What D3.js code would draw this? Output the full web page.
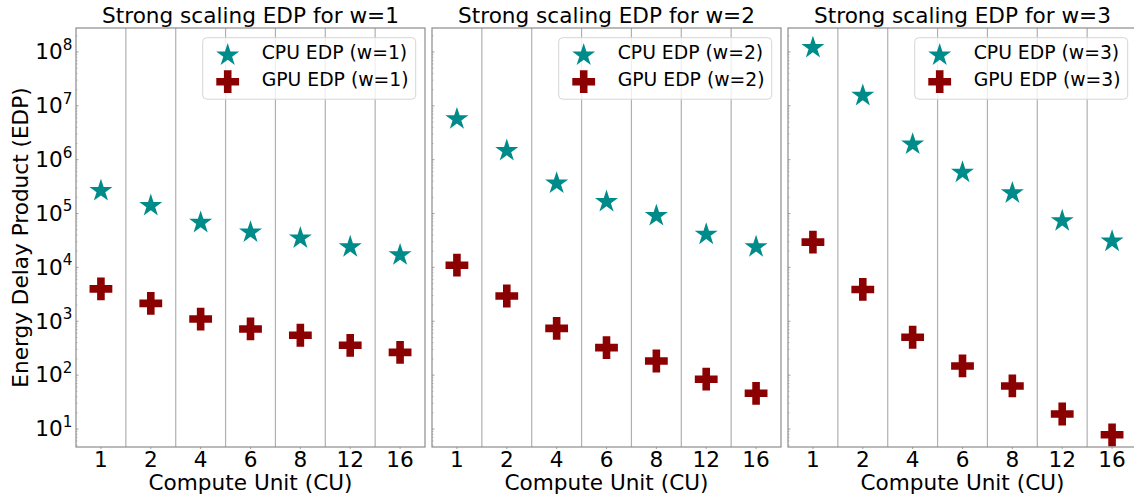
<!DOCTYPE html>
<html lang="en">
<head>
<meta charset="UTF-8">
<script src="https://cdn.jsdelivr.net/npm/d3@7"></script>
<title>Strong scaling EDP</title>
<style>
  body { margin: 0; background: #fff; }
  text { font-family: "DejaVu Sans", sans-serif; fill: #000; }
</style>
</head>
<body>
<div id="chart"></div>
<script>
// compute units on the x axis
var units = ["1", "2", "4", "6", "8", "12", "16"];
var widths = [1, 2, 3];

// EDP values
var cpuW1 = [2.65e5, 1.4e5, 6.8e4, 4.5e4, 3.5e4, 2.4e4, 1.7e4];
var gpuW1 = [4.0e3, 2.15e3, 1.1e3, 720, 550, 358, 265];
var cpuW2 = [5.7e6, 1.47e6, 3.65e5, 1.66e5, 9.1e4, 4.1e4, 2.4e4];
var gpuW2 = [1.1e4, 2.95e3, 740, 324, 183, 84, 46];
var cpuW3 = [1.2e8, 1.55e7, 1.93e6, 5.8e5, 2.4e5, 7.3e4, 3.05e4];
var gpuW3 = [2.95e4, 3.9e3, 505, 148, 63, 19, 7.8];

var cpuData = [cpuW1, cpuW2, cpuW3];
var gpuData = [gpuW1, gpuW2, gpuW3];

var W = 1134, H = 499;
var plotTop = 28, plotBottom = 447;
var panelLeft = [76, 432, 788], panelW = 349;
var cpuColor = "#008b8b", gpuColor = "#8b0000";
var fs = "21.6px";

var svg = d3.select("#chart").append("svg")
    .attr("width", W).attr("height", H);

var y = d3.scaleLog()
    .domain([Math.pow(10, 0.6658), Math.pow(10, 8.4456)])
    .range([plotBottom, plotTop]);

// matplotlib-like star and filled plus
function starPath(R) {
    var r = R * 0.381966, pts = [];
    for (var i = 0; i < 10; i++) {
        var a = -Math.PI / 2 + i * Math.PI / 5, rr = i % 2 ? r : R;
        pts.push([rr * Math.cos(a), rr * Math.sin(a)]);
    }
    return "M" + pts.map(function (p) { return p[0].toFixed(2) + "," + p[1].toFixed(2); }).join("L") + "Z";
}
function plusPath(h) {
    var t = h / 3;
    return "M" + [[-t,-h],[t,-h],[t,-t],[h,-t],[h,t],[t,t],[t,h],[-t,h],[-t,t],[-h,t],[-h,-t],[-t,-t]]
        .map(function (p) { return p[0] + "," + p[1]; }).join("L") + "Z";
}
var star = starPath(12.1), plus = plusPath(11.4);

var majors = d3.range(1, 9).map(function (e) { return Math.pow(10, e); });
var minors = [];
d3.range(0, 9).forEach(function (e) {
    for (var k = 2; k <= 9; k++) {
        var v = k * Math.pow(10, e);
        if (v > y.domain()[0] && v < y.domain()[1]) minors.push(v);
    }
});

widths.forEach(function (w, pi) {
    var x0 = panelLeft[pi];
    var x = d3.scaleBand().domain(units).range([x0, x0 + panelW]);
    var g = svg.append("g");

    // grid lines between categories
    g.selectAll(".grid").data(units.slice(1)).enter().append("line")
        .attr("x1", function (d) { return x(d); })
        .attr("x2", function (d) { return x(d); })
        .attr("y1", plotTop).attr("y2", plotBottom)
        .attr("stroke", "#b0b0b0").attr("stroke-width", 1.2);

    // y ticks (inward, small)
    g.selectAll(".ymaj").data(majors).enter().append("line")
        .attr("x1", x0).attr("x2", x0 + 2.5)
        .attr("y1", function (d) { return y(d); }).attr("y2", function (d) { return y(d); })
        .attr("stroke", "#888").attr("stroke-width", 0.8);
    g.selectAll(".ymin").data(minors).enter().append("line")
        .attr("x1", x0).attr("x2", x0 + 1.5)
        .attr("y1", function (d) { return y(d); }).attr("y2", function (d) { return y(d); })
        .attr("stroke", "#999").attr("stroke-width", 0.6);

    // x ticks
    g.selectAll(".xt").data(units).enter().append("line")
        .attr("x1", function (d) { return x(d) + x.bandwidth() / 2; })
        .attr("x2", function (d) { return x(d) + x.bandwidth() / 2; })
        .attr("y1", plotBottom).attr("y2", plotBottom + 2)
        .attr("stroke", "#888").attr("stroke-width", 0.8);

    // frame
    g.append("rect")
        .attr("x", x0).attr("y", plotTop)
        .attr("width", panelW).attr("height", plotBottom - plotTop)
        .attr("fill", "none").attr("stroke", "#8c8c8c").attr("stroke-width", 1.2);

    // x tick labels
    g.selectAll(".xl").data(units).enter().append("text")
        .attr("x", function (d) { return x(d) + x.bandwidth() / 2; })
        .attr("y", 467)
        .attr("text-anchor", "middle")
        .style("font-size", fs)
        .text(function (d) { return d; });

    g.append("text")
        .attr("x", x0 + panelW / 2).attr("y", 490)
        .attr("text-anchor", "middle")
        .style("font-size", fs)
        .text("Compute Unit (CU)");

    g.append("text")
        .attr("x", x0 + panelW / 2).attr("y", 23)
        .attr("text-anchor", "middle")
        .style("font-size", fs)
        .text("Strong scaling EDP for w=" + w);

    // markers
    var cx = function (d, i) { return x(units[i]) + x.bandwidth() / 2; };
    g.selectAll(".cpu").data(cpuData[pi]).enter().append("path")
        .attr("d", star)
        .attr("transform", function (d, i) { return "translate(" + cx(d, i) + "," + y(d) + ")"; })
        .attr("fill", cpuColor);
    g.selectAll(".gpu").data(gpuData[pi]).enter().append("path")
        .attr("d", plus)
        .attr("transform", function (d, i) { return "translate(" + cx(d, i) + "," + y(d) + ")"; })
        .attr("fill", gpuColor);

    // legend
    var lw = 213, lh = 61.5;
    var lx = x0 + panelW - 9.3 - lw, ly = plotTop + 9.7;
    var leg = g.append("g");
    leg.append("rect")
        .attr("x", lx).attr("y", ly).attr("width", lw).attr("height", lh)
        .attr("rx", 4).attr("fill", "#fff").attr("fill-opacity", 0.8)
        .attr("stroke", "#d6d6d6").attr("stroke-width", 1);
    leg.append("path").attr("d", star)
        .attr("transform", "translate(" + (lx + 25) + "," + (ly + 17.5) + ")")
        .attr("fill", cpuColor);
    leg.append("path").attr("d", plus)
        .attr("transform", "translate(" + (lx + 25) + "," + (ly + 44) + ")")
        .attr("fill", gpuColor);
    leg.append("text").attr("x", lx + 59).attr("y", ly + 21.6)
        .style("font-size", "18.8px").text("CPU EDP (w=" + w + ")");
    leg.append("text").attr("x", lx + 59).attr("y", ly + 47.8)
        .style("font-size", "18.8px").text("GPU EDP (w=" + w + ")");
});

// y tick labels on the first panel only
var yl = svg.append("g");
yl.selectAll("text").data(majors).enter().append("text")
    .attr("x", 72.5)
    .attr("y", function (d) { return y(d) + 7.3; })
    .attr("text-anchor", "end")
    .style("font-size", fs)
    .each(function (d) {
        var t = d3.select(this);
        t.append("tspan").text("10");
        t.append("tspan").attr("dy", -9.5).style("font-size", "15.2px")
            .text(Math.round(Math.log10(d)));
    });

svg.append("text")
    .attr("transform", "translate(28," + ((plotTop + plotBottom) / 2) + ") rotate(-90)")
    .attr("text-anchor", "middle")
    .style("font-size", fs)
    .text("Energy Delay Product (EDP)");
</script>
</body>
</html>
